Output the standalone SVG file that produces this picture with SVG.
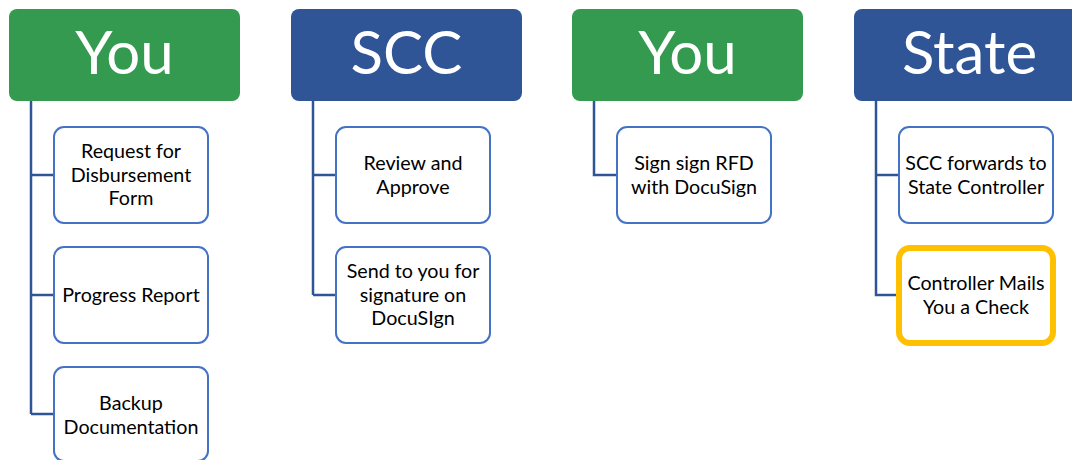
<svg xmlns="http://www.w3.org/2000/svg" width="1072" height="460" viewBox="0 0 1072 460">
<style>
.hdr-g{fill:#349A4F}
.hdr-b{fill:#2F5597}
.htxt{font-family:Lato,"Open Sans",sans-serif;font-size:60px;fill:#fff;text-anchor:middle}
.box{fill:#fff;stroke:#4472C4;stroke-width:2}
.hl{fill:#fff;stroke:#FFC000;stroke-width:6}
.t{font-family:Lato,"Open Sans",sans-serif;font-size:19.7px;fill:#000;text-anchor:middle}
.conn{fill:none;stroke:#2F5597;stroke-width:2.5}
</style>
<rect width="1072" height="460" fill="#fff"/>
<g id="connectors">
<path class="conn" d="M31 101 V414 M31 175 H53 M31 295 H53 M31 414 H53"/>
<path class="conn" d="M313 101 V295 M313 175 H335 M313 295 H335"/>
<path class="conn" d="M594 101 V175 H617"/>
<path class="conn" d="M876 101 V295 H896 M876 175 H899"/>
</g>
<g id="h1"><rect class="hdr-g" x="9" y="9" width="231" height="92" rx="8"/><text class="htxt" x="124.5" y="74">You</text></g>
<g id="h2"><rect class="hdr-b" x="291" y="9" width="231" height="92" rx="8"/><text class="htxt" x="406.5" y="74">SCC</text></g>
<g id="h3"><rect class="hdr-g" x="572" y="9" width="231" height="92" rx="8"/><text class="htxt" x="687.5" y="74">You</text></g>
<g id="h4"><rect class="hdr-b" x="854" y="9" width="231" height="92" rx="8"/><text class="htxt" x="969.5" y="74">State</text></g>
<g id="c1a"><rect class="box" x="54" y="127" width="154" height="96" rx="10"/><text class="t" x="131" y="158"><tspan x="131">Request for</tspan><tspan x="131" dy="23.5">Disbursement</tspan><tspan x="131" dy="23.5">Form</tspan></text></g>
<g id="c1b"><rect class="box" x="54" y="247" width="154" height="96" rx="10"/><text class="t" x="131" y="302">Progress Report</text></g>
<g id="c1c"><rect class="box" x="54" y="367" width="154" height="94" rx="10"/><text class="t" x="131" y="410"><tspan x="131">Backup</tspan><tspan x="131" dy="23.5">Documentation</tspan></text></g>
<g id="c2a"><rect class="box" x="336" y="127" width="154" height="96" rx="10"/><text class="t" x="413" y="170"><tspan x="413">Review and</tspan><tspan x="413" dy="23.5">Approve</tspan></text></g>
<g id="c2b"><rect class="box" x="336" y="247" width="154" height="96" rx="10"/><text class="t" x="413" y="278"><tspan x="413">Send to you for</tspan><tspan x="413" dy="23.5">signature on</tspan><tspan x="413" dy="23.5">DocuSIgn</tspan></text></g>
<g id="c3a"><rect class="box" x="617" y="127" width="154" height="96" rx="10"/><text class="t" x="694" y="170"><tspan x="694">Sign sign RFD</tspan><tspan x="694" dy="23.5">with DocuSign</tspan></text></g>
<g id="c4a"><rect class="box" x="899" y="127" width="154" height="96" rx="10"/><text class="t" x="976" y="170"><tspan x="976">SCC forwards to</tspan><tspan x="976" dy="23.5">State Controller</tspan></text></g>
<g id="c4b"><rect class="hl" x="899" y="248" width="154" height="95" rx="11"/><text class="t" x="976" y="290"><tspan x="976">Controller Mails</tspan><tspan x="976" dy="23.5">You a Check</tspan></text></g>
</svg>
